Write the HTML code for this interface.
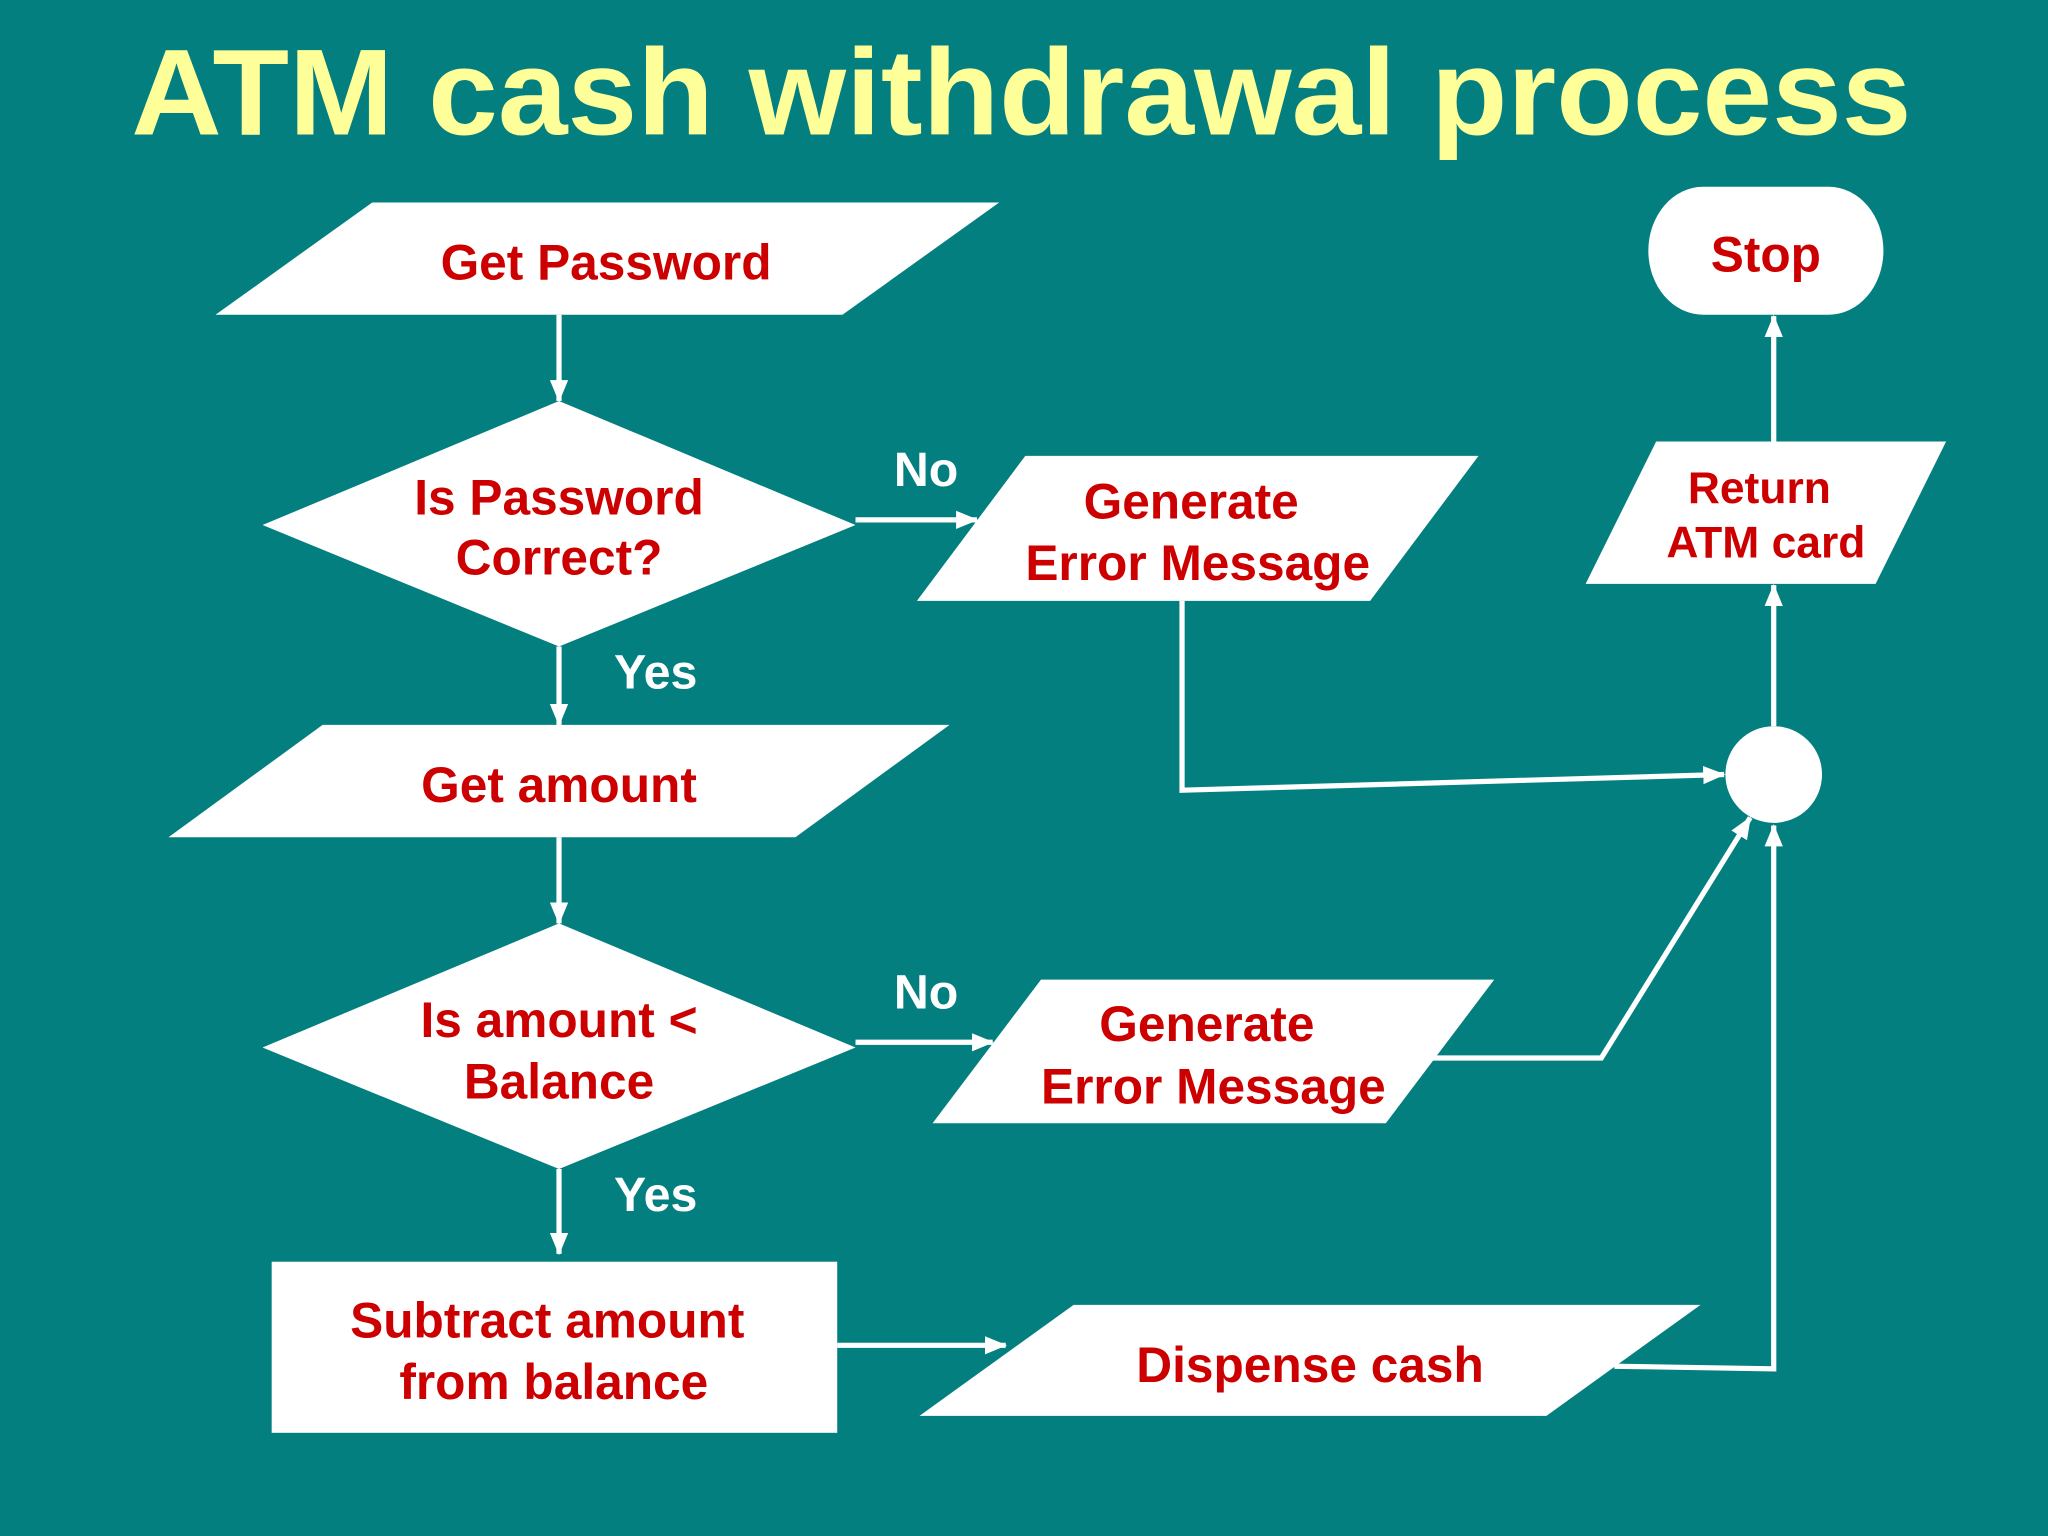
<!DOCTYPE html>
<html><head><meta charset="utf-8"><style>
html,body{margin:0;padding:0;background:#047f80;}
svg{display:block}
text{font-family:"Liberation Sans",Arial,sans-serif;font-weight:bold;}
</style></head><body>
<svg width="2048" height="1536" viewBox="0 0 1568 1176" xmlns="http://www.w3.org/2000/svg">
<defs>
<marker id="b" markerWidth="18" markerHeight="18" refX="16" refY="7" orient="auto" markerUnits="userSpaceOnUse"><path d="M0,0 L17,7 L0,14 z" fill="#fff"/></marker></defs>
<rect width="1568" height="1176" fill="#047f80"/>
<text x="782" y="103" font-size="94" fill="#ffff99" text-anchor="middle" textLength="1363" lengthAdjust="spacingAndGlyphs">ATM cash withdrawal process</text>
<g fill="#fff">
<polygon points="165,241 285,155 765,155 645,241"/>
<polygon points="428,307 655,402 428,495 201,402"/>
<polygon points="702,460 785,349 1132,349 1049,460"/>
<circle cx="1358" cy="593" r="37"/>
<polygon points="129,641 247,555 727,555 609,641"/>
<polygon points="428,707 655,802 428,895 201,802"/>
<polygon points="714,860 797,750 1144,750 1061,860"/>
<rect x="208" y="966" width="433" height="131"/>
<polygon points="704,1084 822,999 1302,999 1184,1084"/>
<polygon points="1214,447 1268,338 1490,338 1436,447"/>
<rect x="1262" y="143" width="180" height="98" rx="42" ry="49"/>
</g>
<g stroke="#fff" stroke-width="4" fill="none" marker-end="url(#b)">
<line x1="428" y1="241" x2="428" y2="307"/>
<line x1="655" y1="398" x2="748" y2="398"/>
<polyline points="905,460 905,605 1320,593"/>
<line x1="428" y1="495" x2="428" y2="555"/>
<line x1="428" y1="641" x2="428" y2="707"/>
<line x1="655" y1="798" x2="760" y2="798"/>
<polyline points="1096,810 1226,810 1340,626"/>
<line x1="428" y1="895" x2="428" y2="960"/>
<line x1="641" y1="1030" x2="770" y2="1030"/>
<polyline points="1236,1046 1358,1048 1358,632"/>
<line x1="1358" y1="556" x2="1358" y2="448"/>
<line x1="1358" y1="338" x2="1358" y2="242"/>
</g>
<g fill="#cc0000" font-size="38" text-anchor="middle">
<text x="464" y="214">Get Password</text>
<text x="428" y="394">Is Password</text>
<text x="428" y="440">Correct?</text>
<text x="912" y="397">Generate</text>
<text x="917" y="444">Error Message</text>
<text x="428" y="614">Get amount</text>
<text x="428" y="794">Is amount &lt;</text>
<text x="428" y="841">Balance</text>
<text x="924" y="797">Generate</text>
<text x="929" y="845">Error Message</text>
<text x="419" y="1024">Subtract amount</text>
<text x="424" y="1071">from balance</text>
<text x="1003" y="1058">Dispense cash</text>
<text x="1347" y="385" font-size="34">Return</text>
<text x="1352" y="427" font-size="34">ATM card</text>
<text x="1352" y="208">Stop</text>
</g>
<g fill="#fff" font-size="37" text-anchor="middle">
<text x="709" y="372">No</text>
<text x="502" y="527">Yes</text>
<text x="709" y="772">No</text>
<text x="502" y="927">Yes</text>
</g>
</svg>
</body></html>
